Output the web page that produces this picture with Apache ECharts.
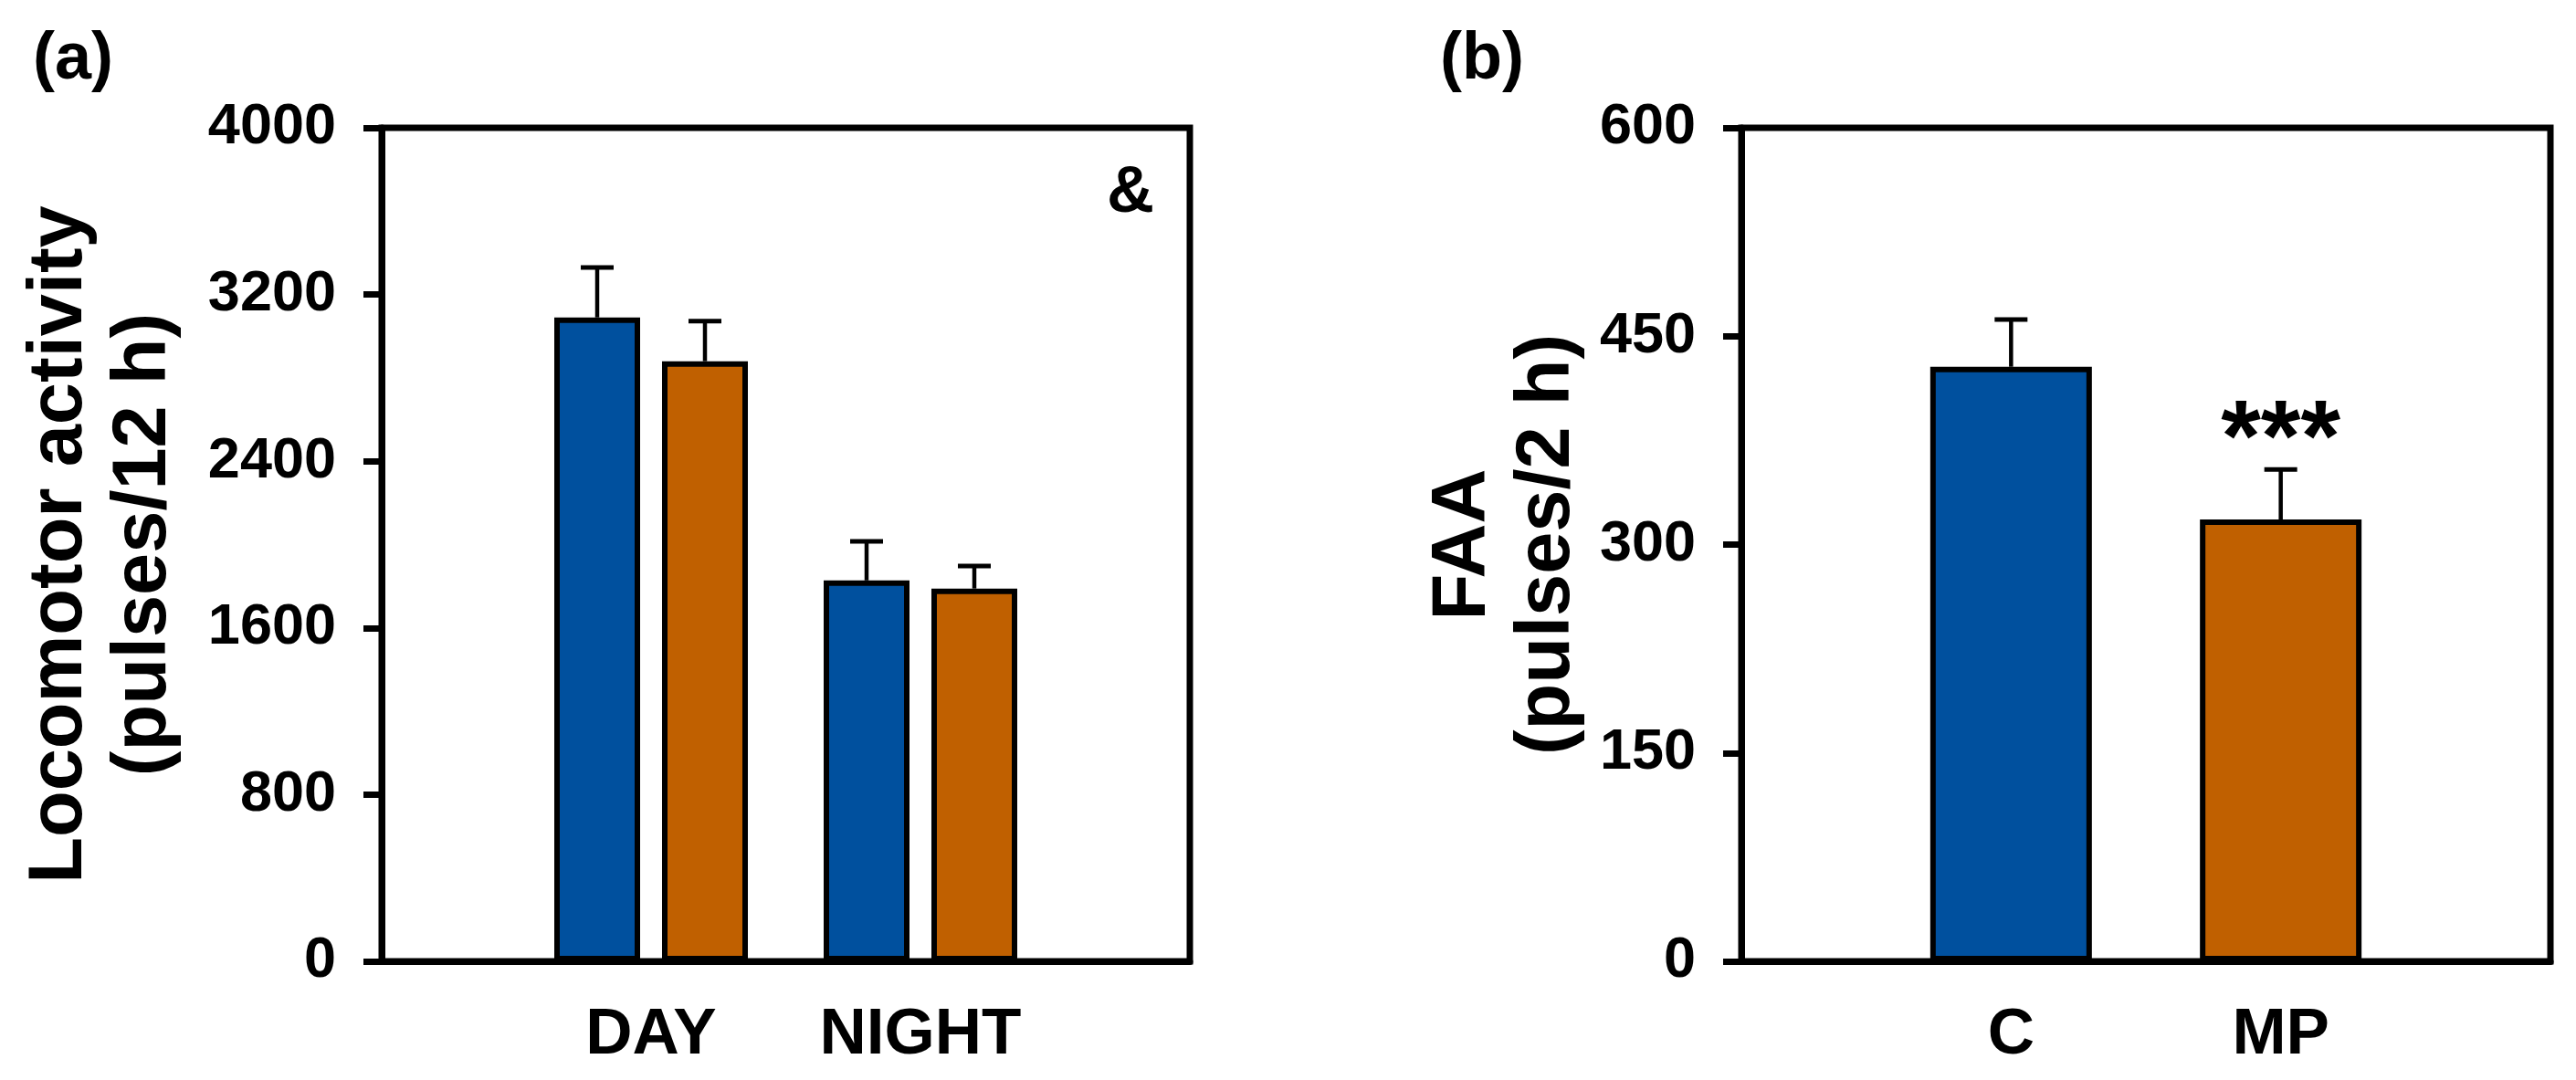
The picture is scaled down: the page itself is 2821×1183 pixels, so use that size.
<!DOCTYPE html>
<html><head><meta charset="utf-8">
<script src="https://cdn.jsdelivr.net/npm/echarts@6/dist/echarts.min.js"></script>
<style>html,body{margin:0;padding:0;background:#fff}#c{width:2821px;height:1183px}</style>
</head><body><div id="c"></div>
<script>
// ---------- data ----------
const catsA = ['', 'DAY', 'NIGHT', ''];
const activityC = [null, 3090, 1828, null];
const activityCErr = [null, 240, 187, null];
const activityMP = [null, 2880, 1789, null];
const activityMPErr = [null, 192, 108, null];
const catsB = ['', 'C', 'MP', ''];
const faa = [null, 428, 318, null];
const faaErr = [null, 34, 36, null];
const ticksA = [0, 4000, 800];
const ticksB = [0, 600, 150];
const panelLabels = ['(a)', '(b)'];
const noteA = '&';
const noteB = '***';

// ---------- style / layout ----------
const FONT = '"Liberation Sans", Arial, Helvetica, sans-serif';
const BLUE = '#00509E', ORANGE = '#C06000';
const BAR_W_A = 94, GAP_A = 24, BAR_W_B = 177;
const LW = 7;

function errData(vals, errs) {
  const out = [];
  vals.forEach((v, i) => { if (v != null) out.push([i, v, errs[i]]); });
  return out;
}
function errRender(offset) {
  return function (params, api) {
    const idx = api.value(0), v = api.value(1), e = api.value(2);
    const base = api.coord([idx, v]);
    const top = api.coord([idx, v + e]);
    const x = base[0] + offset;
    return { type: 'group', children: [
      { type: 'line', shape: { x1: x, y1: base[1], x2: x, y2: top[1] }, style: { stroke: '#000', lineWidth: 4.5 } },
      { type: 'line', shape: { x1: x - 18, y1: top[1], x2: x + 18, y2: top[1] }, style: { stroke: '#000', lineWidth: 5 } }
    ]};
  };
}
function yAxis(gi, t, name, gap) {
  return {
    type: 'value', gridIndex: gi, min: t[0], max: t[1], interval: t[2],
    name: name, nameLocation: 'middle', nameRotate: 90, nameGap: gap,
    nameTextStyle: { fontSize: 83, fontWeight: 'bold', fontFamily: FONT, color: '#000', lineHeight: 92 },
    axisLine: { show: true, lineStyle: { color: '#000', width: LW } },
    axisTick: { show: true, length: 20, lineStyle: { color: '#000', width: LW } },
    axisLabel: { fontSize: 63, fontWeight: 'bold', fontFamily: FONT, color: '#000', margin: 50,
                 formatter: (v) => String(v) },
    splitLine: { show: false }
  };
}
function xAxis(gi, cats) {
  return {
    type: 'category', gridIndex: gi, data: cats, boundaryGap: false,
    axisLine: { show: true, lineStyle: { color: '#000', width: LW } },
    axisTick: { show: false },
    axisLabel: { fontSize: 71, fontWeight: 'bold', fontFamily: FONT, color: '#000', margin: 46, interval: 0 },
    splitLine: { show: false }
  };
}
const barStyle = (c) => ({ color: c, borderColor: '#000', borderWidth: 6 });
const colorsB = [BLUE, BLUE, ORANGE, ORANGE];

const chart = echarts.init(document.getElementById('c'), null, { renderer: 'canvas' });
chart.setOption({
  animation: false,
  backgroundColor: '#fff',
  grid: [
    { left: 418, top: 140, width: 885, height: 913, show: true, borderColor: '#000', borderWidth: LW, backgroundColor: 'transparent' },
    { left: 1907, top: 140, width: 886, height: 913, show: true, borderColor: '#000', borderWidth: LW, backgroundColor: 'transparent' }
  ],
  xAxis: [xAxis(0, catsA), xAxis(1, catsB)],
  yAxis: [yAxis(0, ticksA, 'Locomotor activity\n(pulses/12 h)', 214), yAxis(1, ticksB, 'FAA\n(pulses/2 h)', 166)],
  series: [
    { type: 'custom', xAxisIndex: 0, yAxisIndex: 0, data: errData(activityC, activityCErr), renderItem: errRender(-(BAR_W_A + GAP_A) / 2), encode: { x: 0, y: 1 }, z: 1 },
    { type: 'custom', xAxisIndex: 0, yAxisIndex: 0, data: errData(activityMP, activityMPErr), renderItem: errRender((BAR_W_A + GAP_A) / 2), encode: { x: 0, y: 1 }, z: 1 },
    { type: 'bar', xAxisIndex: 0, yAxisIndex: 0, data: activityC, barWidth: BAR_W_A, barGap: (GAP_A / BAR_W_A * 100) + '%', itemStyle: barStyle(BLUE), z: 2 },
    { type: 'bar', xAxisIndex: 0, yAxisIndex: 0, data: activityMP, barWidth: BAR_W_A, barGap: (GAP_A / BAR_W_A * 100) + '%', itemStyle: barStyle(ORANGE), z: 2 },
    { type: 'custom', xAxisIndex: 1, yAxisIndex: 1, data: errData(faa, faaErr), renderItem: errRender(0), encode: { x: 0, y: 1 }, z: 1 },
    { type: 'bar', xAxisIndex: 1, yAxisIndex: 1, data: faa, barWidth: BAR_W_B,
      itemStyle: { borderColor: '#000', borderWidth: 6, color: (p) => colorsB[p.dataIndex] }, z: 2 }
  ]
});
const starX = chart.convertToPixel({ xAxisIndex: 1 }, 'MP');
chart.setOption({
  graphic: [
    { type: 'text', left: 36, top: 30, style: { text: panelLabels[0], font: 'bold 72px ' + FONT, fill: '#000' } },
    { type: 'text', left: 1577, top: 30, style: { text: panelLabels[1], font: 'bold 72px ' + FONT, fill: '#000' } },
    { type: 'text', x: 1238, y: 212, style: { text: noteA, font: 'bold 72px ' + FONT, fill: '#000', align: 'center', verticalAlign: 'middle' } },
    { type: 'text', x: starX, y: 485, style: { text: noteB, font: 'bold 112px ' + FONT, fill: '#000', align: 'center', verticalAlign: 'middle' } }
  ]
});
</script></body></html>
